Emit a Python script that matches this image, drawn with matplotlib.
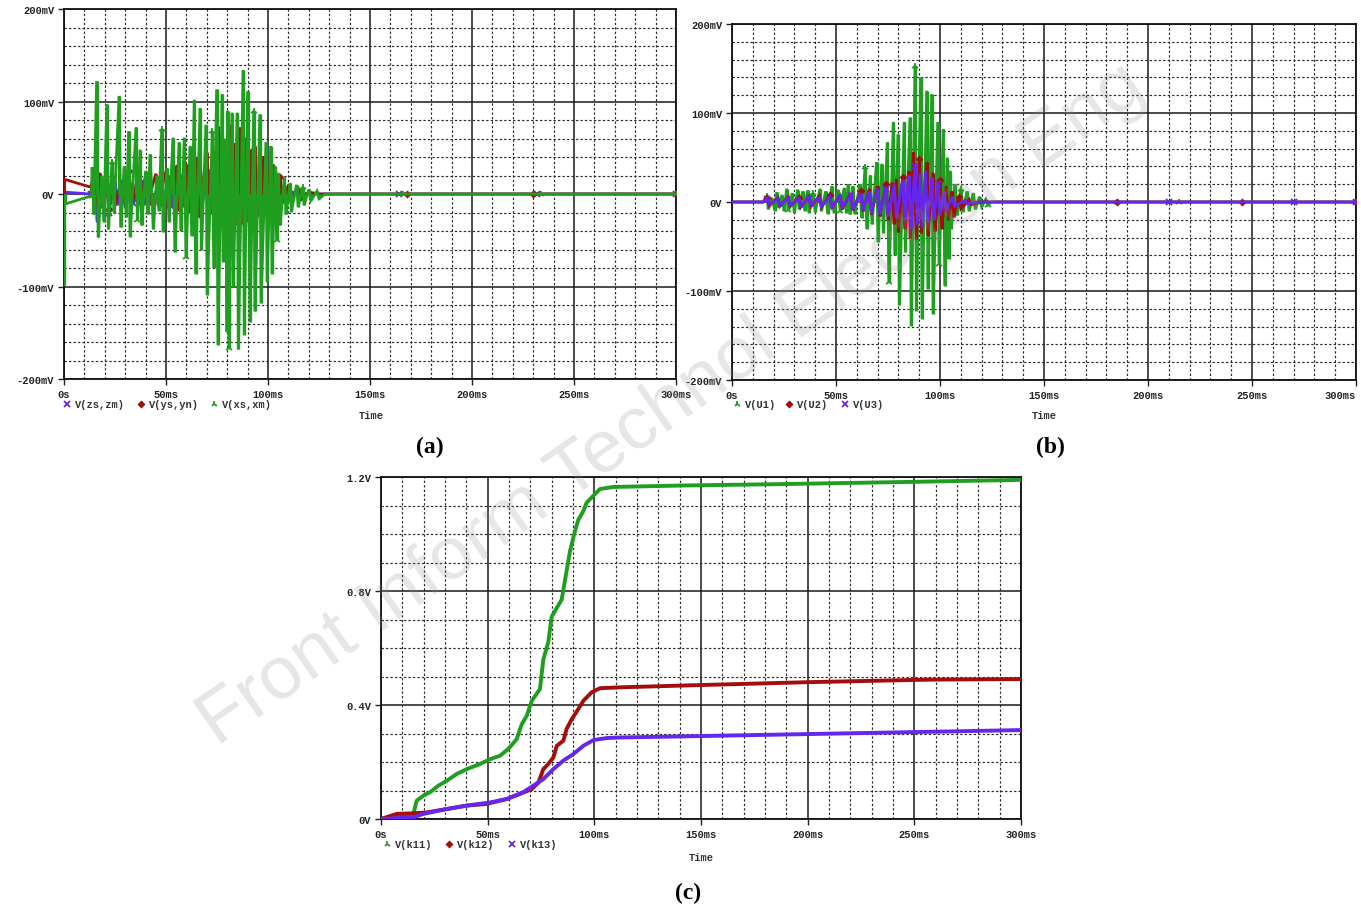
import matplotlib
matplotlib.use('Agg')
import matplotlib.pyplot as plt
from matplotlib.lines import Line2D
from matplotlib.ticker import MultipleLocator

W, H = 1361, 912
GREEN = '#1f9e1f'
RED = '#a50d0d'
BLUE = '#6526ee'
MONO = 'Liberation Mono'

# ---------------- panel (a): V(zs,zm), V(ys,yn), V(xs,xm)  [ms, mV] ----------------
a_zs_t = [0, 0.3, 13, 15, 16.2, 18, 19, 21, 22, 25, 26, 29, 30, 33, 34, 38, 39, 42, 43, 47, 48,
          52, 53, 57, 58, 62, 63, 66, 67, 71, 72, 75.5, 76.5, 77.5, 78.3, 81, 82, 85, 86, 87.8,
          88.5, 90, 91, 93, 94, 96, 96.8, 100, 101, 105, 106, 112, 118, 164, 232, 300]
a_zs_v = [13, 2, 0, 25, -30, 12, -15, 10, -20, 15, -12, 10, -15, 12, -10, 15, -12, 10, -10, 15, -12,
          20, -15, 18, -14, 25, -18, 22, -20, 25, -22, 56, -35, 30, -50, 30, -25, 45, -30, 20,
          -44, 28, -25, 25, -20, 22, -29, 15, -12, 8, -6, 2, 0, 0, 0, 0]

a_ys_t = [0, 13, 14.5, 15.5, 17.6, 18.5, 21, 22, 24, 25, 28, 29, 32, 33, 36, 37, 40, 41, 45, 46,
          50, 51, 55, 56, 60, 61, 65, 66, 70, 71, 75.6, 76.4, 78.5, 79.3, 81.4, 82.2, 84, 84.8,
          86.3, 87, 89.5, 90.3, 91.5, 92.3, 93.6, 94.4, 97.5, 98.3, 100, 100.8, 102.5, 103.3,
          106, 107, 110, 111, 115, 116, 120, 125, 168, 230, 300]
a_ys_v = [16, 7.5, 18, -12, 23, -15, 15, -16, 20, -12, 15, -10, 25, -15, 18, -12, 20, -10, 22, -12,
          25, -15, 28, -18, 32, -20, 40, -22, 45, -25, 73, -30, 55, -28, 75, -30, 55, -28,
          72, -32, 61, -30, 45, -25, 52, -25, 41, -20, 30, -15, 32, -15,
          18, -10, 10, -6, 5, -3, 2, 0, 0, 0, 0]

a_xs_t = [0, 0.3, 13.5, 13.8, 14.6, 16.0, 16.8, 18.5, 19.5, 21.0, 21.8, 23.5, 24.5, 27.0, 27.8,
          29.5, 30.5, 31.7, 32.4, 35.3, 36.0, 37.3, 38.0, 40.0, 41.0, 42.2, 43.8, 45.5, 46.5,
          47.9, 48.6, 50.5, 51.5, 53.4, 54.4, 56.4, 57.3, 59.0, 59.8, 61.8, 62.6, 63.9, 64.5,
          66.7, 67.4, 69.6, 70.2, 72.7, 73.4, 74.8, 75.5, 77.5, 78.0, 79.2, 79.9, 80.2, 80.9,
          82.4, 83.0, 84.9, 85.5, 87.8, 88.4, 90.0, 91.2, 93.0, 93.6, 96.0, 96.6, 99.0, 99.6,
          101.3, 102.0, 103.5, 104.2, 105.0, 105.9, 108.0, 108.8, 110.8, 111.5, 114.0, 114.8,
          117.0, 117.7, 120.0, 121.0, 124.0, 125.0, 128.0, 166, 234, 300]
a_xs_v = [-98, -11, -2, 29, -22, 122, -47, 20, -30, 97, -38, 35, -20, 106, -36,
          30, -25, 68, -46, 72, -28, 48, -34, 25, -22, 43, -38, 20, -18,
          70, -41, 28, -30, 61, -63, 56, -40, 61, -68, 52, -45, 102, -86,
          93, -60, 75, -109, 68, -80, 113, -163, 108, -73, 60, -149, 90, -167,
          88, -100, 88, -168, 134, -152, 111, -138, 90, -127, 86, -118, 56, -95,
          52, -86, 30, -50, 23, -34, 18, -22, 12, -19, 10, -14,
          8, -12, 5, -7, 3, -5, 0, 0, 0, 0]

# ---------------- panel (b): V(U1), V(U2), V(U3)  [ms, mV] ----------------
b_u1_t = [0, 15, 16.7, 17.5, 19, 20.7, 21.5, 22.3, 24, 25, 26.3, 27, 29, 30, 31.5, 32.3, 34, 35,
          36.3, 37, 39, 40, 42.3, 43, 45, 46, 48, 49, 51, 52, 54, 55, 55.8, 56.6, 58, 59, 61.5,
          62.3, 64, 64.8, 66.5, 67.3, 69.5, 70.2, 72, 72.8, 74.7, 75.4, 77.6, 78.3, 79.8, 80.5,
          82.8, 83.4, 85.6, 86.2, 88, 88.7, 90.7, 91.4, 93.6, 94.2, 96, 96.7, 98.9, 99.6,
          101.6, 102.3, 103.5, 104.2, 104.8, 105.5, 107, 108, 110, 111, 113, 114, 116, 117,
          119, 120, 122, 123, 125, 185, 215, 300]
b_u1_v = [0, 0, 7, -8, 5, -10, 11, -6, 8, -10, 15, -9, 10, -12, 14, -8, 12, -10,
          13, -12, 10, -11, 15, -10, 12, -13, 18, -12, 14, -10, 16, -12, 20, -14, 18, -13.5, 20,
          -18, 39, -30, 30, -25, 45, -45, 43, -35, 67, -90, 90, -60, 76, -116,
          90, -56, 95, -139, 153, -122, 140, -131, 125, -98, 121, -126, 90, -70,
          82, -94, 50, -64, 35, -30, 20, -15, 15, -11, 12, -10, 10, -8,
          6, -5, 3, -3, 0, 0, 0, 0]

b_u2_t = [0, 15, 17, 18, 22, 23, 27, 28, 32, 33, 37, 38, 42, 43, 47, 48, 52, 53, 57, 58, 62, 63,
          66, 67, 70, 71, 74, 75, 77, 77.8, 79, 80, 82, 83, 85, 85.6, 87.2, 88.6, 90, 91, 93.6,
          94.2, 96.6, 97.5, 100, 100.8, 103, 104, 105.6, 106.5, 109, 110, 114, 115, 120, 185,
          245, 300]
b_u2_v = [0, 0, 4, -4, 5, -5, 6, -5, 5, -6, 6, -5, 7, -6, 8, -7, 8, -8, 10, -9, 12, -10,
          15, -14, 18, -16, 20, -20, 22, -25, 26, -34, 28, -30, 35, -40, 56, -42, 48, -35, 45,
          -38, 33, -33, 25, -30, 18, -20, 12, -17, 6, -8, 3, -3, 0, 0,
          0, 0]

b_u3_t = [0, 15, 17, 18, 22, 23, 27, 28, 32, 33, 37, 38, 42, 43, 47, 48, 52, 53, 57, 58, 62, 63,
          66, 67, 70, 71, 74, 75, 78, 79, 82, 83, 85, 86, 88, 89, 90.5, 91.5, 93, 94, 96, 97,
          99, 100, 102, 103, 106, 107, 112, 113, 118, 210, 270, 300]
b_u3_v = [0, 0, 3, -3, 4, -4, 5, -4, 4, -5, 5, -4, 5, -5, 6, -6, 7, -6, 8, -8, 10, -9,
          12, -12, 15, -14, 15, -16, 20, -18, 25, -20, 30, -30, 41, -25, 32, -28, 35, -22, 28, -20,
          20, -15, 12, -10, 6, -5, 2, -2, 0, 0, 0, 0]

# ---------------- panel (c): V(k11), V(k12), V(k13)  [ms, V] ----------------
c_k11_t = [0, 5, 10, 15.2, 16.7, 19.9, 23, 26.9, 30.8, 35.5, 40.2, 46.4, 51.1, 55.8, 59.7, 63.6,
           66, 68.3, 70.7, 74.5, 76.1, 78.4, 80, 84.7, 86.3, 88.6, 90.9, 92.5, 94.8, 96.4,
           100.3, 102.7, 108.8, 140, 187, 249.5, 300]
c_k11_v = [0, 0.01, 0.014, 0.018, 0.064, 0.082, 0.094, 0.117, 0.134, 0.158, 0.175, 0.193, 0.21,
           0.222, 0.246, 0.28, 0.333, 0.362, 0.415, 0.456, 0.56, 0.62, 0.71, 0.77, 0.84, 0.94,
           1.01, 1.05, 1.08, 1.11, 1.14, 1.158, 1.165, 1.17, 1.175, 1.183, 1.19]

c_k12_t = [0, 7.4, 15.2, 21.4, 30.8, 40.2, 49.6, 58.9, 65.2, 70.7, 73.8, 76.1, 78.4, 80.8, 82.4,
           85.5, 87, 89.4, 92.5, 94.9, 98.8, 102.7, 112, 140, 199.6, 257, 300]
c_k12_v = [0, 0.018, 0.02, 0.023, 0.035, 0.047, 0.053, 0.07, 0.088, 0.105, 0.128, 0.175, 0.193,
           0.216, 0.257, 0.275, 0.316, 0.35, 0.386, 0.415, 0.445, 0.459, 0.462, 0.468, 0.48,
           0.489, 0.491]

c_k13_t = [0, 15.2, 19.9, 30.8, 40.2, 51.1, 58.9, 66.7, 71.4, 76.1, 80.8, 85.5, 90.2, 94.9, 99.6,
           105.8, 112, 150, 200, 250, 300]
c_k13_v = [0, 0.006, 0.018, 0.035, 0.047, 0.058, 0.07, 0.094, 0.117, 0.14, 0.175, 0.205, 0.228,
           0.257, 0.277, 0.284, 0.286, 0.291, 0.298, 0.305, 0.312]

x_ticks_ms = [0, 50, 100, 150, 200, 250, 300]
x_tick_labels = ['0s', '50ms', '100ms', '150ms', '200ms', '250ms', '300ms']
mv_ticks = [-200, -100, 0, 100, 200]
mv_labels = ['-200mV', '-100mV', '0V', '100mV', '200mV']
v_ticks = [0, 0.4, 0.8, 1.2]
v_labels = ['0V', '0.4V', '0.8V', '1.2V']

legend_a = [('x', BLUE, 'V(zs,zm)'), ('D', RED, 'V(ys,yn)'), ('2', GREEN, 'V(xs,xm)')]
legend_b = [('2', GREEN, 'V(U1)'), ('D', RED, 'V(U2)'), ('x', BLUE, 'V(U3)')]
legend_c = [('2', GREEN, 'V(k11)'), ('D', RED, 'V(k12)'), ('x', BLUE, 'V(k13)')]

fig = plt.figure(figsize=(W / 100, H / 100), dpi=100)
fig.patch.set_facecolor('white')


def add_axes_px(left, top, right, bottom):
    return fig.add_axes([left / W, 1 - bottom / H, (right - left) / W, (bottom - top) / H])


def style_axes(ax, ylim, yticks, ylabels, yminor):
    ax.set_xlim(0, 300)
    ax.set_ylim(*ylim)
    ax.set_xticks(x_ticks_ms)
    ax.set_xticklabels(x_tick_labels)
    ax.set_yticks(yticks)
    ax.set_yticklabels(ylabels)
    ax.xaxis.set_minor_locator(MultipleLocator(10))
    ax.yaxis.set_minor_locator(MultipleLocator(yminor))
    ax.grid(which='major', color='#1a1a1a', lw=1.1, ls='-', zorder=0)
    ax.grid(which='minor', color='#2a2a2a', lw=0.85, ls=(0, (2.0, 1.8)), zorder=0)
    ax.set_axisbelow(True)
    ax.tick_params(which='minor', length=0)
    ax.tick_params(which='major', length=4, width=1, direction='out', pad=3,
                   labelsize=7.5, colors='#222222')
    for lab in ax.get_xticklabels() + ax.get_yticklabels():
        lab.set_fontfamily(MONO)
        lab.set_fontweight('bold')
    for sp in ax.spines.values():
        sp.set_linewidth(1.3)
        sp.set_color('#111111')


def marks(ts, step, start=2):
    idx = list(range(start, len(ts) - 4, step))
    idx += [len(ts) - 3, len(ts) - 2, len(ts) - 1]
    return sorted(set(i for i in idx if 0 <= i < len(ts)))


def trace(ax, ts, vs, color, marker, ms, step, z, bar_lw=2.3, line_lw=2.0):
    """Oscilloscope-style trace: thick excursion bars plus the connecting waveform."""
    ax.vlines(ts, 0, vs, colors=color, lw=bar_lw, zorder=z)
    ax.plot(ts, vs, color=color, lw=line_lw, zorder=z, solid_joinstyle='miter')
    ax.plot(ts, vs, color=color, ls='none', marker=marker, ms=ms, mew=1.3,
            markevery=marks(ts, step), zorder=z)


def legend_row(items, x0, y, gaps):
    x = x0
    for (mk, col, txt), gap in zip(items, gaps):
        fig.add_artist(Line2D([x / W], [1 - y / H], transform=fig.transFigure, marker=mk,
                              color=col, ls='none', ms=4.5 if mk != 'D' else 2.8,
                              mew=1.3))
        fig.text((x + 8) / W, 1 - y / H, txt, fontfamily=MONO, fontweight='bold',
                 fontsize=7.5, color='#333333', va='center', ha='left')
        x += gap


def time_label(x, y):
    fig.text(x / W, 1 - y / H, 'Time', fontfamily=MONO, fontweight='bold', fontsize=7.5,
             color='#333333', ha='center', va='center')


# ---------------- (a) ----------------
ax_a = add_axes_px(64, 10, 676, 380)
style_axes(ax_a, (-200, 200), mv_ticks, mv_labels, 20)
trace(ax_a, a_zs_t, a_zs_v, BLUE, 'x', 5, 3, 3, bar_lw=1.8)
trace(ax_a, a_ys_t, a_ys_v, RED, 'D', 2.8, 5, 4, bar_lw=2.0)
trace(ax_a, a_xs_t, a_xs_v, GREEN, '2', 5, 9, 5, bar_lw=2.4)
legend_row(legend_a, 67, 405, [74, 73, 80])
time_label(371, 416)

# ---------------- (b) ----------------
ax_b = add_axes_px(732, 25, 1356, 381)
style_axes(ax_b, (-200, 200), mv_ticks, mv_labels, 20)
ax_b.get_xticklabels()[-1].set_horizontalalignment('right')
trace(ax_b, b_u1_t, b_u1_v, GREEN, '2', 5, 9, 3, bar_lw=2.4)
trace(ax_b, b_u2_t, b_u2_v, RED, 'D', 2.8, 6, 4, bar_lw=2.2)
trace(ax_b, b_u3_t, b_u3_v, BLUE, 'x', 5, 8, 5, bar_lw=2.2)
legend_row(legend_b, 737, 405, [52, 56, 60])
time_label(1044, 416)

# ---------------- (c) ----------------
ax_c = add_axes_px(381, 478, 1021, 820)
style_axes(ax_c, (0, 1.2), v_ticks, v_labels, 0.1)
ax_c.plot(c_k11_t, c_k11_v, color=GREEN, lw=2.8, zorder=3)
ax_c.plot(c_k12_t, c_k12_v, color=RED, lw=2.8, zorder=4)
ax_c.plot(c_k13_t, c_k13_v, color=BLUE, lw=2.8, zorder=5)
legend_row(legend_c, 387, 845, [62, 63, 70])
time_label(701, 858)

# panel captions
for txt, x, y in [('(a)', 430, 447), ('(b)', 1050, 447), ('(c)', 688, 893)]:
    fig.text(x / W, 1 - y / H, txt, fontfamily='Liberation Serif', fontweight='bold',
             fontsize=17, ha='center', va='center', color='black')

# journal watermark
fig.text(672 / W, 1 - 405 / H, 'Front Inform Technol Electron Eng',
         fontfamily='Liberation Sans', fontsize=54, rotation=35, color='#8c8c8c', alpha=0.22,
         ha='center', va='center', rotation_mode='anchor', zorder=20)

fig.savefig('out.png', dpi=100, facecolor='white')
